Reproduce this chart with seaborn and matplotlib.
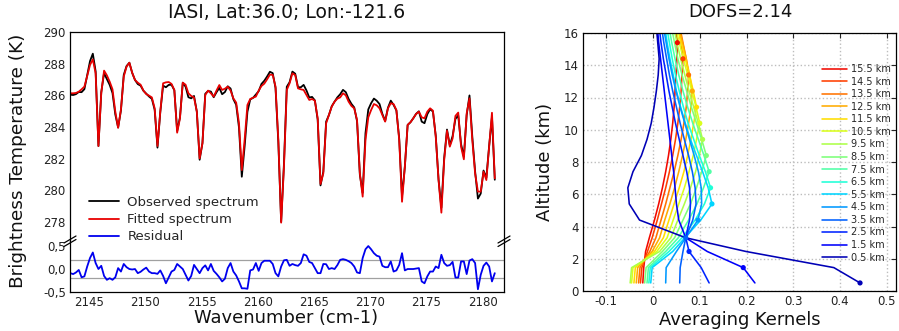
import numpy as np
import pandas as pd
import matplotlib
matplotlib.use("Agg")
import matplotlib.pyplot as plt
from matplotlib.lines import Line2D
from matplotlib.ticker import MultipleLocator, FixedLocator
import seaborn as sns

W, H = 899, 331

# --- IASI spectrum (0.25 cm-1 sampling) ---
wn_start = 2143.33
wn_step = 0.25
fitted_bt = [
    286.13, 286.13, 286.15, 286.23, 286.38, 286.55, 287.22, 287.92, 288.27, 287.39,
    282.80, 286.13, 287.56, 287.26, 286.86, 286.38, 284.97, 283.95, 285.10, 287.18,
    287.81, 288.06, 287.43, 286.97, 286.80, 286.67, 286.30, 286.08, 285.98, 285.87,
    285.18, 282.80, 284.97, 286.76, 286.82, 286.84, 286.72, 286.34, 283.64, 284.55,
    286.80, 286.67, 286.13, 285.96, 285.87, 284.97, 282.02, 282.97, 286.02, 286.30,
    286.13, 285.92, 286.30, 286.65, 286.34, 286.42, 286.55, 286.30, 285.81, 285.54,
    284.23, 281.28, 283.18, 285.39, 285.77, 285.85, 285.92, 286.30, 286.59, 286.74,
    287.01, 287.31, 287.29, 286.55, 283.18, 277.96, 281.50, 286.34, 286.76, 287.39,
    287.28, 286.44, 286.38, 286.34, 286.02, 285.71, 285.77, 285.66, 284.55, 280.40,
    281.07, 284.23, 284.76, 285.29, 285.60, 285.79, 285.87, 286.13, 286.00, 285.60,
    285.33, 285.18, 284.44, 281.07, 279.60, 283.18, 284.61, 285.07, 285.45, 285.37,
    285.18, 284.76, 284.34, 285.18, 285.50, 285.45, 285.07, 283.18, 279.28, 281.50,
    284.13, 284.30, 284.55, 284.82, 284.97, 284.61, 284.55, 284.97, 285.18, 285.03,
    283.39, 280.65, 278.59, 281.92, 283.77, 282.76, 283.28, 284.70, 284.91, 282.76,
    281.96, 284.86, 285.81, 283.18, 281.07, 279.92, 279.92, 281.18, 280.65, 282.76,
    284.90, 280.76,
]
residual = [
    -0.09, -0.11, -0.075, -0.02, -0.18, -0.16, 0.055, 0.24, 0.36, 0.13,
    0.0, 0.07, -0.15, -0.235, -0.2, -0.235, -0.18, 0.02, -0.055, 0.11,
    0.04, 0.0, -0.01, 0.0, -0.09, -0.06, -0.01, 0.03, -0.055, -0.09,
    -0.09, -0.105, -0.03, -0.15, -0.31, -0.18, -0.055, -0.02, 0.11, 0.055,
    0.0, -0.125, -0.25, -0.15, 0.09, 0.0, -0.09, 0.02, 0.08, -0.03,
    0.11, -0.04, -0.105, -0.18, -0.27, -0.21, 0.02, 0.13, -0.055, -0.14,
    -0.27, -0.42, -0.42, -0.43, -0.03, -0.01, 0.13, -0.04, 0.13, 0.18,
    0.18, 0.18, 0.11, -0.09, -0.16, 0.055, 0.19, 0.2, 0.07, 0.11,
    0.085, 0.07, 0.13, 0.32, 0.29, 0.155, 0.13, 0.02, -0.09, -0.09,
    0.11, 0.105, 0.0, 0.02, 0.0, 0.085, 0.2, 0.215, 0.2, 0.17,
    0.13, 0.055, -0.075, -0.09, 0.24, 0.43, 0.5, 0.43, 0.345, 0.29,
    0.27, 0.07, 0.04, 0.04, 0.165, -0.055, -0.03, 0.09, 0.345, -0.03,
    0.0, 0.0, 0.0, 0.01, 0.02, -0.27, -0.31, -0.16, -0.055, -0.055,
    0.055, 0.02, 0.31, 0.13, 0.07, 0.085, 0.155, -0.185, -0.185, 0.165,
    0.165, -0.11, 0.185, 0.215, 0.13, -0.44, -0.125, 0.07, 0.14, 0.055,
    -0.27, -0.09,
]

# --- averaging kernels ---
ak_altitudes = [0.5, 1.45, 2.45, 3.3, 4.4, 5.4, 6.4, 7.4, 8.4, 9.4,
                10.4, 11.4, 12.4, 13.4, 14.4, 15.4, 16.4]
kernel_labels = ["0.5 km", "1.5 km", "2.5 km", "3.5 km", "4.5 km", "5.5 km",
                 "6.5 km", "7.5 km", "8.5 km", "9.5 km", "10.5 km", "11.5 km",
                 "12.5 km", "13.5 km", "14.5 km", "15.5 km"]
averaging_kernels = [
    [0.443, 0.387, 0.199, 0.070, -0.029, -0.051, -0.054, -0.043, -0.025, -0.013, -0.004, 0.002, 0.007, 0.011, 0.013, 0.010, 0.007],
    [0.218, 0.193, 0.116, 0.070, 0.055, 0.050, 0.047, 0.044, 0.040, 0.036, 0.032, 0.028, 0.024, 0.020, 0.016, 0.012, 0.009],
    [0.120, 0.103, 0.077, 0.070, 0.078, 0.080, 0.078, 0.072, 0.064, 0.056, 0.048, 0.041, 0.034, 0.028, 0.022, 0.017, 0.013],
    [0.057, 0.058, 0.064, 0.070, 0.085, 0.092, 0.090, 0.084, 0.076, 0.067, 0.058, 0.050, 0.042, 0.035, 0.029, 0.023, 0.018],
    [0.027, 0.028, 0.050, 0.070, 0.096, 0.104, 0.103, 0.097, 0.088, 0.078, 0.068, 0.058, 0.049, 0.041, 0.034, 0.028, 0.022],
    [-0.005, -0.002, 0.042, 0.068, 0.102, 0.126, 0.118, 0.106, 0.093, 0.080, 0.069, 0.059, 0.050, 0.043, 0.036, 0.030, 0.025],
    [-0.009, -0.006, 0.034, 0.062, 0.090, 0.110, 0.123, 0.112, 0.099, 0.087, 0.075, 0.065, 0.056, 0.048, 0.041, 0.035, 0.029],
    [-0.013, -0.010, 0.027, 0.054, 0.076, 0.094, 0.108, 0.120, 0.109, 0.097, 0.085, 0.074, 0.064, 0.055, 0.047, 0.040, 0.034],
    [-0.018, -0.015, 0.020, 0.046, 0.064, 0.080, 0.093, 0.104, 0.114, 0.104, 0.093, 0.082, 0.072, 0.062, 0.053, 0.046, 0.039],
    [-0.049, -0.046, 0.014, 0.038, 0.053, 0.067, 0.080, 0.091, 0.099, 0.106, 0.097, 0.087, 0.077, 0.068, 0.059, 0.051, 0.044],
    [-0.046, -0.043, 0.008, 0.030, 0.043, 0.055, 0.067, 0.077, 0.086, 0.093, 0.100, 0.092, 0.083, 0.074, 0.065, 0.056, 0.048],
    [-0.041, -0.038, 0.003, 0.022, 0.034, 0.045, 0.056, 0.066, 0.074, 0.081, 0.087, 0.093, 0.086, 0.078, 0.069, 0.060, 0.052],
    [-0.036, -0.033, -0.002, 0.014, 0.025, 0.036, 0.046, 0.055, 0.063, 0.070, 0.076, 0.081, 0.084, 0.078, 0.071, 0.063, 0.055],
    [-0.031, -0.028, -0.007, 0.006, 0.017, 0.027, 0.036, 0.045, 0.053, 0.060, 0.066, 0.071, 0.074, 0.076, 0.071, 0.064, 0.057],
    [-0.027, -0.024, -0.012, -0.002, 0.009, 0.018, 0.027, 0.035, 0.042, 0.048, 0.053, 0.057, 0.060, 0.062, 0.064, 0.060, 0.054],
    [-0.022, -0.020, -0.016, -0.008, 0.003, 0.012, 0.020, 0.027, 0.033, 0.038, 0.042, 0.045, 0.047, 0.049, 0.051, 0.052, 0.049],
]

sns.set_theme(style="white")
plt.rcParams["font.family"] = ["DejaVu Sans"]
plt.rcParams["axes.edgecolor"] = "black"
plt.rcParams["axes.linewidth"] = 0.9

fig = plt.figure(figsize=(W / 100, H / 100), dpi=100)


def px_axes(x0, y0, x1, y1):
    return fig.add_axes([x0 / W, 1 - y1 / H, (x1 - x0) / W, (y1 - y0) / H])


def style_ticks(ax):
    ax.tick_params(which="both", direction="in", length=3.5, width=0.8,
                   labelsize=8.5, labelcolor="#222222", pad=3)


# spectrum frame
wavenumber = wn_start + wn_step * np.arange(len(fitted_bt))
fitted = np.array(fitted_bt)
resid = np.array(residual)
observed = fitted + resid
spec = pd.DataFrame({"wn": wavenumber, "obs": observed, "fit": fitted, "res": resid})

ax_top = px_axes(70, 32, 504, 241)
ax_res = px_axes(70, 241, 504, 292)

sns.lineplot(data=spec, x="wn", y="obs", color="black", lw=1.3, ax=ax_top)
sns.lineplot(data=spec, x="wn", y="fit", color="#e80000", lw=1.3, ax=ax_top)
ax_res.axhline(0.2, color="#a0a0a0", lw=0.9)
ax_res.axhline(-0.2, color="#a0a0a0", lw=0.9)
sns.lineplot(data=spec, x="wn", y="res", color="#0000ee", lw=1.3, ax=ax_res)

for ax in (ax_top, ax_res):
    ax.set_xlim(2143.3, 2181.9)
    ax.set_xlabel("")
    ax.set_ylabel("")
    ax.xaxis.set_major_locator(MultipleLocator(5))
    ax.xaxis.set_minor_locator(MultipleLocator(2.5))
    style_ticks(ax)

ax_top.set_ylim(276.8, 290)
ax_top.yaxis.set_major_locator(FixedLocator([278, 280, 282, 284, 286, 288, 290]))
ax_top.yaxis.set_minor_locator(MultipleLocator(1))
ax_top.tick_params(axis="x", which="both", bottom=False, labelbottom=False)
ax_top.spines["bottom"].set_visible(False)

ax_res.set_ylim(-0.5, 0.61)
ax_res.set_yticks([-0.5, 0.0, 0.5])
ax_res.set_yticklabels(["-0,5", "0,0", "0,5"])
ax_res.yaxis.set_minor_locator(FixedLocator([-0.25, 0.25]))
ax_res.spines["top"].set_visible(False)

# break marks on both spines
for xp in (70, 504):
    for dy in (0, 3.5):
        fig.add_artist(Line2D([(xp - 6) / W, (xp + 6) / W],
                              [1 - (243 + dy) / H, 1 - (236 + dy) / H],
                              color="black", lw=0.9))

fig.text(287 / W, 1 - 12 / H, "IASI, Lat:36.0; Lon:-121.6", ha="center",
         va="center", fontsize=13.5, color="#111111")
fig.text(18 / W, 1 - 161 / H, "Brightness Temperature (K)", rotation=90,
         ha="center", va="center", fontsize=13.3, color="#111111")
fig.text(286 / W, 1 - 318 / H, "Wavenumber (cm-1)", ha="center", va="center",
         fontsize=12.9, color="#111111")

spec_handles = [Line2D([], [], color="black", lw=1.3),
                Line2D([], [], color="#e80000", lw=1.3),
                Line2D([], [], color="#0000ee", lw=1.3)]
fig.legend(spec_handles, ["Observed spectrum", "Fitted spectrum", "Residual"],
           loc="upper left", bbox_to_anchor=(89 / W, 1 - 196 / H),
           frameon=False, fontsize=9.5, handlelength=2.3, handletextpad=0.6,
           labelspacing=0.32, borderpad=0, borderaxespad=0)

# averaging kernels
ak_colors = [plt.cm.jet(v) for v in np.linspace(0.05, 0.9, len(kernel_labels))]
palette = dict(zip(kernel_labels, ak_colors))
rows = []
dots = []
for i, (lab, ker) in enumerate(zip(kernel_labels, averaging_kernels)):
    for alt, val in zip(ak_altitudes, ker):
        rows.append({"kernel": lab, "alt": alt, "ak": val})
    dots.append({"kernel": lab, "alt": ak_altitudes[i], "ak": ker[i]})
ak_df = pd.DataFrame(rows)
dot_df = pd.DataFrame(dots)

ax_ak = px_axes(583, 33, 896, 291)
ax_ak.grid(True, color="#bdbdbd", ls=":", lw=1.0)
ax_ak.set_axisbelow(True)
order = kernel_labels[::-1]
sns.lineplot(data=ak_df, x="ak", y="alt", hue="kernel", hue_order=order,
             palette=palette, sort=False, estimator=None, lw=1.15, ax=ax_ak)
sns.scatterplot(data=dot_df, x="ak", y="alt", hue="kernel", hue_order=order,
                palette=palette, s=14, edgecolor="none", legend=False,
                ax=ax_ak, zorder=4)
ax_ak.set_xlim(-0.15, 0.52)
ax_ak.set_ylim(0, 16)
ax_ak.set_xticks([-0.1, 0, 0.1, 0.2, 0.3, 0.4, 0.5])
ax_ak.set_xticklabels(["-0.1", "0", "0.1", "0.2", "0.3", "0.4", "0.5"])
ax_ak.set_yticks(range(0, 17, 2))
ax_ak.set_xlabel("")
ax_ak.set_ylabel("")
style_ticks(ax_ak)
ax_ak.tick_params(top=True, right=True)

sns.move_legend(ax_ak, loc="upper left", bbox_to_anchor=(822 / W, 1 - 64 / H),
                bbox_transform=fig.transFigure, frameon=False, title=None,
                fontsize=7, handlelength=2.6, handletextpad=0.35,
                labelspacing=0.265, borderpad=0, borderaxespad=0)

fig.text(740 / W, 1 - 12 / H, "DOFS=2.14", ha="center", va="center",
         fontsize=13, color="#111111")
fig.text(545 / W, 1 - 162 / H, "Altitude (km)", rotation=90, ha="center",
         va="center", fontsize=13, color="#111111")
fig.text(740 / W, 1 - 320 / H, "Averaging Kernels", ha="center", va="center",
         fontsize=12.9, color="#111111")

fig.savefig("out.png", dpi=100)
